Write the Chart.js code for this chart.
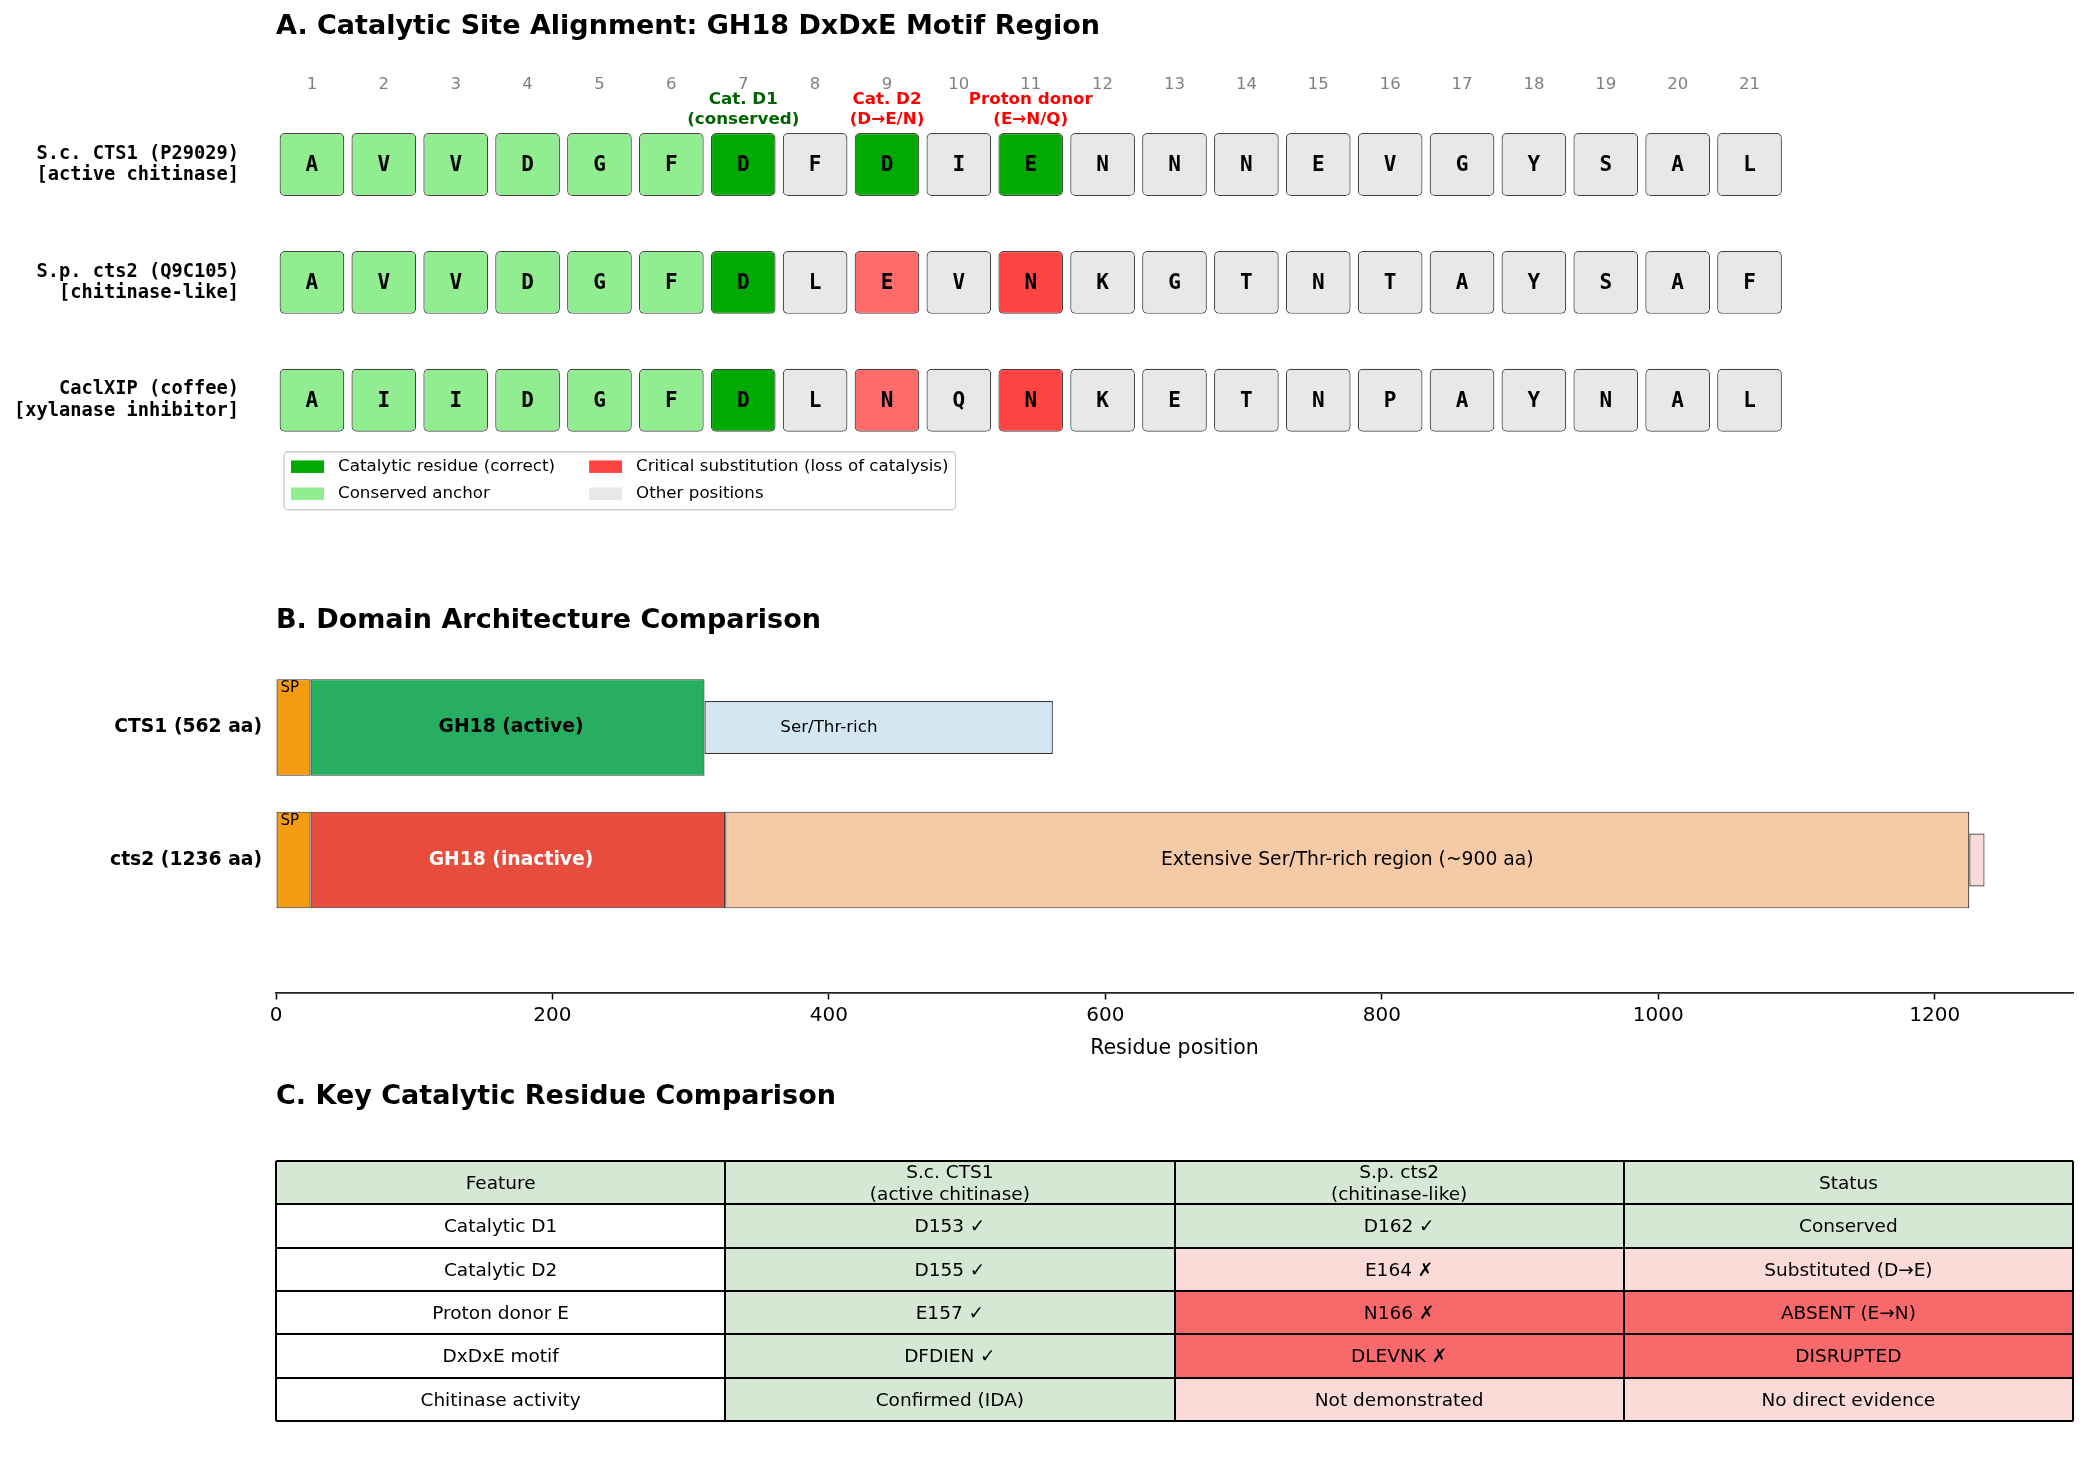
<!DOCTYPE html>
<html>
<head>
<meta charset="utf-8">
<script src="https://cdn.jsdelivr.net/npm/chart.js@4.4.1/dist/chart.umd.min.js"></script>
<style>
    body { margin: 0; background: #fff; width: 2088px; height: 1483px; overflow: hidden; }
    canvas { position: absolute; left: 0; top: 0; }
</style>
</head>
<body>
<canvas id="alignChart" width="2088" height="1483"></canvas>
<canvas id="domainChart" width="2088" height="1483"></canvas>
<canvas id="tableChart" width="2088" height="1483"></canvas>
<script>
// ---- panel A: alignment ----
const positions = [1, 2, 3, 4, 5, 6, 7, 8, 9, 10, 11, 12, 13, 14, 15, 16, 17, 18, 19, 20, 21]
const seqNames = [
    ["S.c. CTS1 (P29029)", "[active chitinase]"],
    ["S.p. cts2 (Q9C105)", "[chitinase-like]"],
    ["CaclXIP (coffee)", "[xylanase inhibitor]"]
]
const seqCTS1 = ["A", "V", "V", "D", "G", "F", "D", "F", "D", "I", "E", "N", "N", "N", "E", "V", "G", "Y", "S", "A", "L"]
const seqCts2 = ["A", "V", "V", "D", "G", "F", "D", "L", "E", "V", "N", "K", "G", "T", "N", "T", "A", "Y", "S", "A", "F"]
const seqXIP  = ["A", "I", "I", "D", "G", "F", "D", "L", "N", "Q", "N", "K", "E", "T", "N", "P", "A", "Y", "N", "A", "L"]
// a = conserved anchor, c = catalytic, s = substitution, x = critical substitution, o = other
const classCTS1 = "aaaaaacococoooooooooo"
const classCts2 = "aaaaaacosoxoooooooooo"
const classXIP  = "aaaaaacosoxoooooooooo"
const notePos = [7, 9, 11]
const noteText = [["Cat. D1", "(conserved)"], ["Cat. D2", "(D\u2192E/N)"], ["Proton donor", "(E\u2192N/Q)"]]
const legendLabels = ["Catalytic residue (correct)", "Conserved anchor", "Critical substitution (loss of catalysis)", "Other positions"]

// ---- panel B: domains ----
const proteinLabels = ["CTS1 (562 aa)", "cts2 (1236 aa)"]
const domainRow   = [0, 0, 0, 1, 1, 1, 1]
const domainStart = [0, 25, 310, 0, 25, 325, 1225]
const domainEnd   = [25, 310, 562, 25, 325, 1225, 1236]
const domainKind  = ["sp", "gh18a", "st", "sp", "gh18i", "stx", "ct"]
const domainLabel = ["SP", "GH18 (active)", "Ser/Thr-rich", "SP", "GH18 (inactive)", "Extensive Ser/Thr-rich region (~900 aa)", ""]
const domainLabelAt = [10, 170, 400, 10, 170, 775, 1230]

// ---- panel C: table ----
const tableHeader  = ["Feature", "S.c. CTS1\n(active chitinase)", "S.p. cts2\n(chitinase-like)", "Status"]
const tableFeature = ["Catalytic D1", "Catalytic D2", "Proton donor E", "DxDxE motif", "Chitinase activity"]
const tableCTS1    = ["D153 \u2713", "D155 \u2713", "E157 \u2713", "DFDIEN \u2713", "Confirmed (IDA)"]
const tableCts2    = ["D162 \u2713", "E164 \u2717", "N166 \u2717", "DLEVNK \u2717", "Not demonstrated"]
const tableStatus  = ["Conserved", "Substituted (D\u2192E)", "ABSENT (E\u2192N)", "DISRUPTED", "No direct evidence"]
// g = ok, p = changed, r = lost, w = plain
const shadeHeader  = "gggg"
const shadeFeature = "wwwww"
const shadeCTS1    = "ggggg"
const shadeCts2    = "gprrp"
const shadeStatus  = "gprrp"

const titles = [
    "A. Catalytic Site Alignment: GH18 DxDxE Motif Region",
    "B. Domain Architecture Comparison",
    "C. Key Catalytic Residue Comparison"
]

const SANS = "'DejaVu Sans', sans-serif"
const MONO = "'DejaVu Sans Mono', monospace"

Chart.defaults.font.family = SANS
Chart.defaults.color = "#000"
Chart.defaults.animation = false
Chart.defaults.responsive = false
Chart.defaults.devicePixelRatio = 1
Chart.defaults.plugins.legend.display = false
Chart.defaults.plugins.tooltip.enabled = false

const residueFill = { a: "#90ee90", c: "#00aa00", s: "#ff6b6b", x: "#ff4444", o: "#e8e8e8" }
const legendFill = ["#00aa00", "#90ee90", "#ff4444", "#e8e8e8"]
const domainFill = { sp: "#f39c12", gh18a: "#27ae60", st: "#d4e6f1", gh18i: "#e74c3c", stx: "#f5cba7", ct: "#fadbd8" }
const thinKinds = ["st", "ct"]
const shadeFill = { g: "#d5e8d4", p: "#fadbd8", r: "#f8696b", w: "#ffffff" }

const alignRows = [seqCTS1, seqCts2, seqXIP]
const alignClass = [classCTS1, classCts2, classXIP]
const rowY = r => r * 1.5

const fixedTicks = values => scale => { scale.ticks = values.map(v => ({ value: v })) }

function drawTitle(ctx, text, x, y) {
    ctx.fillStyle = "#000"
    ctx.font = `bold 27px ${SANS}`
    ctx.textAlign = "left"
    ctx.textBaseline = "middle"
    ctx.fillText(text, x, y)
}

// text layer for the alignment
const alignText = {
    id: "alignText",
    afterDatasetsDraw(chart) {
        const { ctx, chartArea: ca, scales: { x, y } } = chart
        ctx.save()
        drawTitle(ctx, titles[0], ca.left, 27)

        ctx.textAlign = "center"
        ctx.textBaseline = "middle"

        // position numbers
        ctx.fillStyle = "#808080"
        ctx.font = `16.5px ${SANS}`
        positions.forEach(p => ctx.fillText(String(p), x.getPixelForValue(p), y.getPixelForValue(-1.01)))

        // motif notes
        ctx.font = `bold 16.7px ${SANS}`
        notePos.forEach((p, k) => {
            ctx.fillStyle = k === 0 ? "#006400" : "#ff0000"
            const top = y.getPixelForValue(-0.83)
            noteText[k].forEach((line, j) => ctx.fillText(line, x.getPixelForValue(p), top + j * 20.5))
        })

        // residues
        ctx.fillStyle = "#000"
        ctx.font = `bold 21px ${MONO}`
        alignRows.forEach((seq, r) => {
            chart.getDatasetMeta(r).data.forEach((bar, i) => {
                ctx.fillText(seq[i], bar.x, (bar.y + bar.base) / 2 + 1)
            })
        })

        // row labels
        ctx.textAlign = "right"
        ctx.font = `bold 18.7px ${MONO}`
        seqNames.forEach((lines, r) => {
            const cy = y.getPixelForValue(rowY(r))
            ctx.fillText(lines[0], ca.left - 37, cy - 10.7)
            ctx.fillText(lines[1], ca.left - 37, cy + 10.7)
        })

        // legend, two columns
        ctx.font = `16.7px ${SANS}`
        ctx.textAlign = "left"
        const lx = ca.left + 8
        const ly = y.getPixelForValue(rowY(2) + 0.4) + 20
        const w1 = Math.max(ctx.measureText(legendLabels[0]).width, ctx.measureText(legendLabels[1]).width)
        const w2 = Math.max(ctx.measureText(legendLabels[2]).width, ctx.measureText(legendLabels[3]).width)
        const col2 = 7 + 47 + w1 + 34
        const fw = col2 + 47 + w2 + 7
        ctx.beginPath()
        ctx.roundRect(lx, ly, fw, 58, 4)
        ctx.fillStyle = "rgba(255,255,255,0.8)"
        ctx.fill()
        ctx.strokeStyle = "#cccccc"
        ctx.lineWidth = 1.3
        ctx.stroke()
        legendLabels.forEach((label, k) => {
            const px = lx + (k < 2 ? 7 : col2)
            const cy = ly + (k % 2 === 0 ? 15 : 42)
            ctx.fillStyle = legendFill[k]
            ctx.fillRect(px, cy - 6.3, 33, 12.5)
            ctx.fillStyle = "#000"
            ctx.fillText(label, px + 47, cy)
        })
        ctx.restore()
    }
}

new Chart(document.getElementById("alignChart"), {
    type: "bar",
    data: {
        datasets: alignRows.map((seq, r) => ({
            label: seqNames[r][0],
            data: positions.map(p => ({ x: p, y: [rowY(r) - 0.4, rowY(r) + 0.4] })),
            backgroundColor: alignClass[r].split("").map(c => residueFill[c]),
            borderColor: "#444",
            borderWidth: 1.2,
            borderRadius: 5,
            borderSkipped: false,
            barPercentage: 0.9,
            categoryPercentage: 1,
            grouped: false
        }))
    },
    options: {
        layout: { padding: { left: 276, right: 15, top: 46.6, bottom: 925.5 } },
        scales: {
            x: { type: "linear", min: 0.5, max: 25.5, offset: false, display: false, afterBuildTicks: fixedTicks(positions) },
            y: { type: "linear", min: -1.5, max: 5, reverse: true, display: false }
        }
    },
    plugins: [alignText]
})

// text layer for the domains
const domainText = {
    id: "domainText",
    afterDatasetsDraw(chart) {
        const { ctx, chartArea: ca, scales: { x, y } } = chart
        ctx.save()
        drawTitle(ctx, titles[1], ca.left, 621)

        ctx.textBaseline = "middle"
        ctx.textAlign = "right"
        ctx.fillStyle = "#000"
        ctx.font = `bold 18.75px ${SANS}`
        proteinLabels.forEach((label, r) => ctx.fillText(label, ca.left - 14, y.getPixelForValue(r)))

        ctx.textAlign = "center"
        domainLabel.forEach((label, i) => {
            if (!label) return
            const cx = x.getPixelForValue(domainLabelAt[i])
            const cy = y.getPixelForValue(domainRow[i])
            const kind = domainKind[i]
            if (kind === "sp") {
                ctx.fillStyle = "#000"
                ctx.font = `15px ${SANS}`
                ctx.fillText(label, cx, cy - 39)
            } else if (kind === "gh18a" || kind === "gh18i") {
                ctx.fillStyle = kind === "gh18i" ? "#fff" : "#000"
                ctx.font = `bold 18.75px ${SANS}`
                ctx.fillText(label, cx, cy)
            } else {
                ctx.fillStyle = "#000"
                ctx.font = `${kind === "st" ? 16.7 : 18.75}px ${SANS}`
                ctx.fillText(label, cx, cy)
            }
        })
        ctx.restore()
    }
}

const domainIdx = domainRow.map((r, i) => i)
const domainSet = (thin) => {
    const idx = domainIdx.filter(i => thinKinds.includes(domainKind[i]) === thin)
    return {
        data: idx.map(i => ({ y: domainRow[i], x: [domainStart[i], domainEnd[i]] })),
        backgroundColor: idx.map(i => domainFill[domainKind[i]]),
        borderColor: "rgba(0,0,0,0.8)",
        borderWidth: 1.2,
        borderSkipped: false,
        barPercentage: thin ? 0.4 : 0.73,
        categoryPercentage: 1,
        grouped: false
    }
}

new Chart(document.getElementById("domainChart"), {
    type: "bar",
    data: { datasets: [domainSet(false), domainSet(true)] },
    options: {
        indexAxis: "y",
        layout: { padding: { left: 276, right: 15, top: 595, bottom: 422.5 } },
        scales: {
            x: {
                type: "linear", min: 0, max: 1300, position: "bottom",
                ticks: { stepSize: 200, includeBounds: false, font: { size: 20 }, color: "#000", padding: 4, callback: v => String(v) },
                grid: { display: true, drawOnChartArea: false, drawTicks: true, tickLength: 7, tickColor: "#000", tickWidth: 1.5 },
                border: { display: true, color: "#222", width: 1.8 },
                title: { display: true, text: "Residue position", font: { size: 20.5 }, color: "#000", padding: { top: 0, bottom: 0 } },
                afterFit: s => { s.height = 68 }
            },
            y: { type: "linear", min: -1, max: 2, reverse: true, offset: false, display: false, afterBuildTicks: fixedTicks([0, 1]) }
        }
    },
    plugins: [domainText]
})

// table as a grid of cells
const tableCols = [
    [tableHeader[0], ...tableFeature],
    [tableHeader[1], ...tableCTS1],
    [tableHeader[2], ...tableCts2],
    [tableHeader[3], ...tableStatus]
]
const tableShades = [
    shadeHeader[0] + shadeFeature,
    shadeHeader[1] + shadeCTS1,
    shadeHeader[2] + shadeCts2,
    shadeHeader[3] + shadeStatus
]
const tableRows = [0, 1, 2, 3, 4, 5]

const tableText = {
    id: "tableText",
    afterDraw(chart) {
        const { ctx, chartArea: ca, scales: { x, y } } = chart
        ctx.save()
        drawTitle(ctx, titles[2], ca.left, 1097)
        ctx.fillStyle = "#000"
        ctx.font = `18.5px ${SANS}`
        ctx.textAlign = "center"
        ctx.textBaseline = "middle"
        tableCols.forEach((col, c) => {
            const cx = x.getPixelForValue(c + 0.5)
            col.forEach((text, r) => {
                const lines = text.split("\n")
                const cy = y.getPixelForValue(r)
                lines.forEach((line, j) => {
                    ctx.fillText(line, cx, cy + (j - (lines.length - 1) / 2) * 22.6 + 1.5)
                })
            })
        })
        ctx.restore()
    }
}

new Chart(document.getElementById("tableChart"), {
    type: "bar",
    data: {
        datasets: tableCols.map((col, c) => ({
            data: tableRows.map(r => ({ y: r, x: [c, c + 1] })),
            backgroundColor: tableShades[c].split("").map(s => shadeFill[s]),
            borderWidth: 0,
            barPercentage: 1,
            categoryPercentage: 1,
            grouped: false
        }))
    },
    options: {
        indexAxis: "y",
        layout: { padding: { left: 276, right: 15, top: 1161, bottom: 62 } },
        scales: {
            x: {
                type: "linear", min: 0, max: 4,
                ticks: { display: false },
                grid: { color: "#000", lineWidth: 2, drawTicks: false, z: 1 },
                border: { display: false },
                afterBuildTicks: fixedTicks([0, 1, 2, 3, 4]),
                afterFit: s => { s.height = 0 }
            },
            y: {
                type: "linear", min: -0.5, max: 5.5, reverse: true, offset: false,
                ticks: { display: false },
                grid: { color: "#000", lineWidth: 2, drawTicks: false, offset: false, z: 1 },
                border: { display: false },
                afterBuildTicks: fixedTicks([-0.5, 0.5, 1.5, 2.5, 3.5, 4.5, 5.5]),
                afterFit: s => { s.width = 0 }
            }
        }
    },
    plugins: [tableText]
})
</script>
</body>
</html>
